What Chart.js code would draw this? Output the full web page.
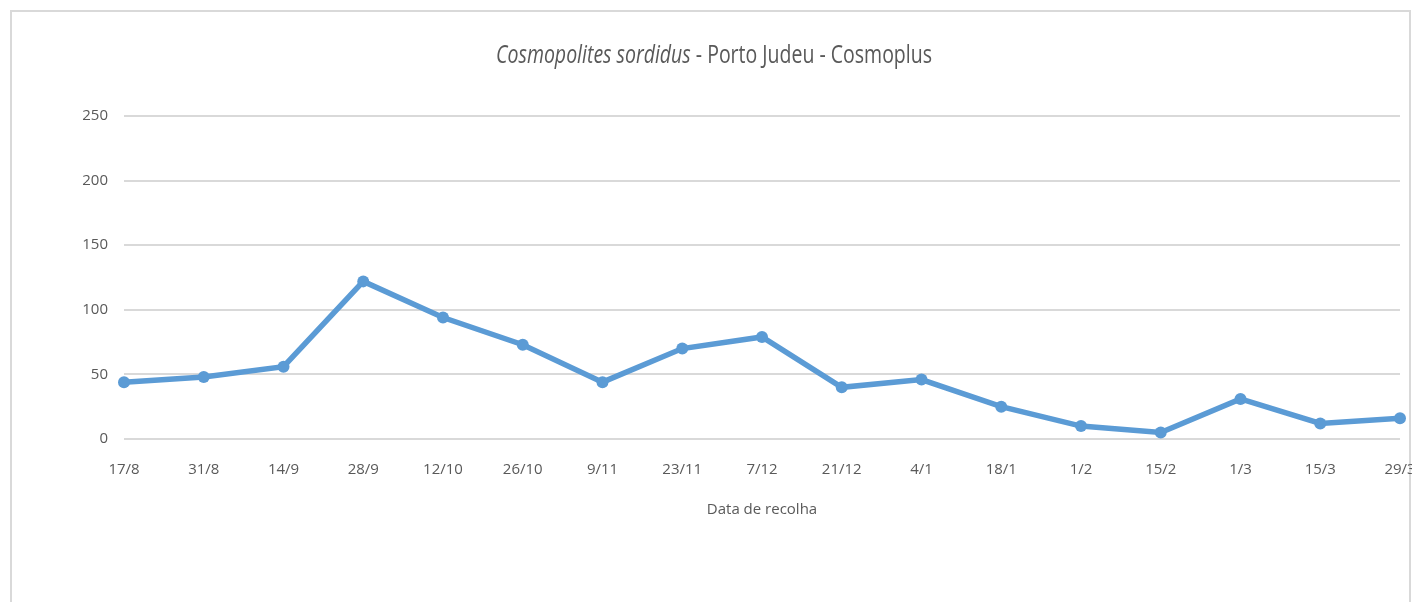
<!DOCTYPE html>
<html>
<head>
<meta charset="utf-8">
<script src="https://cdn.jsdelivr.net/npm/chart.js@4.4.0/dist/chart.umd.min.js"></script>
<style>
  html, body { margin: 0; padding: 0; background: #ffffff; }
  #wrap { width: 1412px; height: 602px; }
</style>
</head>
<body>
<div id="wrap"><canvas id="trapChart" width="1412" height="602"></canvas></div>
<script>
const dates = ["17/8", "31/8", "14/9", "28/9", "12/10", "26/10", "9/11", "23/11", "7/12",
  "21/12", "4/1", "18/1", "1/2", "15/2", "1/3", "15/3", "29/3"];
const captures = [44, 48, 56, 122, 94, 73, 44, 70, 79, 40, 46, 25, 10, 5, 31, 12, 16];
const yTicks = [0, 50, 100, 150, 200, 250];

const titleItalic = "Cosmopolites sordidus";
const titleRest = " - Porto Judeu - Cosmoplus";
const fontFamily = "'Open Sans', 'Noto Sans', sans-serif";
const textColor = "#595959";

// frame + mixed-style title (squeezed a bit, like the original export)
const frameAndTitle = {
  id: "frameAndTitle",
  beforeDraw(chart) {
    const c = chart.ctx;
    c.save();
    c.strokeStyle = "#d9d9d9";
    c.lineWidth = 2;
    c.strokeRect(11, 11, 1399, 620);
    c.restore();
  },
  afterDraw(chart) {
    const c = chart.ctx;
    const squeeze = 0.78;
    c.save();
    c.fillStyle = textColor;
    c.textBaseline = "middle";
    const italicFont = "italic 25px " + fontFamily;
    const normalFont = "25px " + fontFamily;
    c.font = italicFont;
    const w1 = c.measureText(titleItalic).width;
    c.font = normalFont;
    const w2 = c.measureText(titleRest).width;
    c.translate(714, 56);
    c.scale(squeeze, 1);
    const x = -(w1 + w2) / 2;
    c.font = italicFont;
    c.fillText(titleItalic, x, 0);
    c.font = normalFont;
    c.fillText(titleRest, x + w1, 0);
    c.restore();
  }
};

new Chart(document.getElementById("trapChart").getContext("2d"), {
  type: "line",
  data: {
    labels: dates,
    datasets: [{
      label: "Cosmoplus",
      data: captures,
      borderColor: "#5b9bd5",
      backgroundColor: "#5b9bd5",
      borderWidth: 5.5,
      pointRadius: 6,
      pointBorderWidth: 0,
      pointStyle: "circle",
      tension: 0
    }]
  },
  options: {
    responsive: false,
    animation: false,
    layout: { padding: { left: 0, right: 12, top: 116, bottom: 63 } },
    plugins: {
      legend: { display: false },
      tooltip: { enabled: false }
    },
    scales: {
      x: {
        offset: false,
        afterFit: (s) => { s.height = 100; s.paddingLeft = 0; s.paddingRight = 0; },
        grid: { display: false, drawTicks: false },
        border: { display: false },
        ticks: {
          color: textColor,
          font: { family: fontFamily, size: 15 },
          padding: 22,
          maxRotation: 0,
          autoSkip: false
        },
        title: {
          display: true,
          text: "Data de recolha",
          color: textColor,
          font: { family: fontFamily, size: 15 },
          padding: { top: 0, bottom: 20 }
        }
      },
      y: {
        min: 0,
        max: 250,
        afterFit: (s) => { s.width = 124; },
        afterBuildTicks: (s) => { s.ticks = yTicks.map(v => ({ value: v })); },
        grid: { color: "#d9d9d9", lineWidth: 2, drawTicks: false },
        border: { display: false },
        ticks: {
          color: textColor,
          font: { family: fontFamily, size: 15 },
          padding: 16
        }
      }
    }
  },
  plugins: [frameAndTitle]
});
</script>
</body>
</html>
